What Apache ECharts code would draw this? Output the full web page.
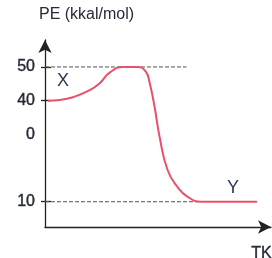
<!DOCTYPE html>
<html>
<head>
<meta charset="utf-8">
<script src="https://cdn.jsdelivr.net/npm/echarts@6/dist/echarts.min.js"></script>
<style>
html,body{margin:0;padding:0;background:#fff;}
#main{width:272px;height:258px;}
</style>
</head>
<body>
<div id="main"></div>
<script>
// kurva energi potensial
var curveX = [1.3, 6.6, 12.3, 19.8, 24.2, 28.6, 34.5, 41.0, 44.6, 46.3, 48.5, 50.7, 54.2, 58.6, 63.0, 69.2, 78.0, 93.8];
var curveY = [40, 40.2, 41.0, 43.1, 45.2, 48.3, 50, 50, 48.6, 45.3, 38.1, 29.3, 19.5, 14.4, 11.5, 10, 10, 10];
var line50 = [[0, 50], [62.6, 50]];
var line10 = [[0, 10], [68, 10]];
var tickValues = [10, 40, 50];
var labelValues = [10, 30, 40, 50];
var labelText = {10: '10', 30: '0', 40: '40', 50: '50'};

var curveData = [];
for (var i = 0; i < curveX.length; i++) {
    curveData.push([curveX[i], curveY[i]]);
}

var fontFam = '"Liberation Sans", Arial, sans-serif';
var txtColor = '#262b38';

var option = {
    animation: false,
    grid: {
        left: 45,
        right: 1,
        top: 40,
        bottom: 31
    },
    xAxis: {
        type: 'value',
        min: 0,
        max: 100,
        splitLine: {show: false},
        axisTick: {show: false},
        axisLabel: {show: false},
        axisLine: {
            show: true,
            symbol: ['none', 'arrow'],
            symbolSize: [10, 13],
            lineStyle: {color: '#222', width: 1.3}
        }
    },
    yAxis: [
        {
            type: 'value',
            min: 2.5,
            max: 58,
            name: 'PE (kkal/mol)',
            nameLocation: 'end',
            nameGap: 17,
            nameTextStyle: {
                color: txtColor,
                fontSize: 16,
                fontFamily: fontFam,
                align: 'left',
                padding: [0, 0, 0, -6]
            },
            splitLine: {show: false},
            axisLine: {
                show: true,
                symbol: ['none', 'arrow'],
                symbolSize: [10, 13],
                lineStyle: {color: '#222', width: 1.3}
            },
            axisTick: {
                show: true,
                length: 4,
                customValues: tickValues,
                lineStyle: {color: '#222', width: 1.3}
            },
            axisLabel: {
                customValues: labelValues,
                color: txtColor,
                fontSize: 16,
                fontFamily: fontFam,
                margin: 10,
                textBorderColor: txtColor,
                textBorderWidth: 0.4,
                formatter: function (v) { return labelText[v]; }
            }
        },
        {
            // tick bagian dalam, supaya tick memotong sumbu
            type: 'value',
            min: 2.5,
            max: 58,
            position: 'left',
            splitLine: {show: false},
            axisLine: {show: false},
            axisLabel: {show: false},
            axisTick: {
                show: true,
                inside: true,
                length: 6,
                customValues: tickValues,
                lineStyle: {color: '#222', width: 1.3}
            }
        }
    ],
    series: [
        {
            type: 'line',
            data: line50,
            symbol: 'none',
            silent: true,
            lineStyle: {color: '#555', width: 1, type: [4, 2]}
        },
        {
            type: 'line',
            data: line10,
            symbol: 'none',
            silent: true,
            lineStyle: {color: '#555', width: 1, type: [4, 2]}
        },
        {
            type: 'line',
            data: curveData,
            symbol: 'none',
            smooth: 0.5,
            lineStyle: {color: '#e9506a', width: 2}
        }
    ],
    graphic: [
        {type: 'text', left: 57, top: 72, style: {text: 'X', fontSize: 18, fontFamily: fontFam, fill: '#2b3a55'}},
        {type: 'text', left: 227, top: 179, style: {text: 'Y', fontSize: 18, fontFamily: fontFam, fill: '#2b3a55'}},
        {type: 'text', left: 251, top: 245, style: {text: 'TK', fontSize: 16, fontFamily: fontFam, fill: txtColor, stroke: txtColor, lineWidth: 0.4}}
    ]
};

var chart = echarts.init(document.getElementById('main'));
chart.setOption(option);
</script>
</body>
</html>
